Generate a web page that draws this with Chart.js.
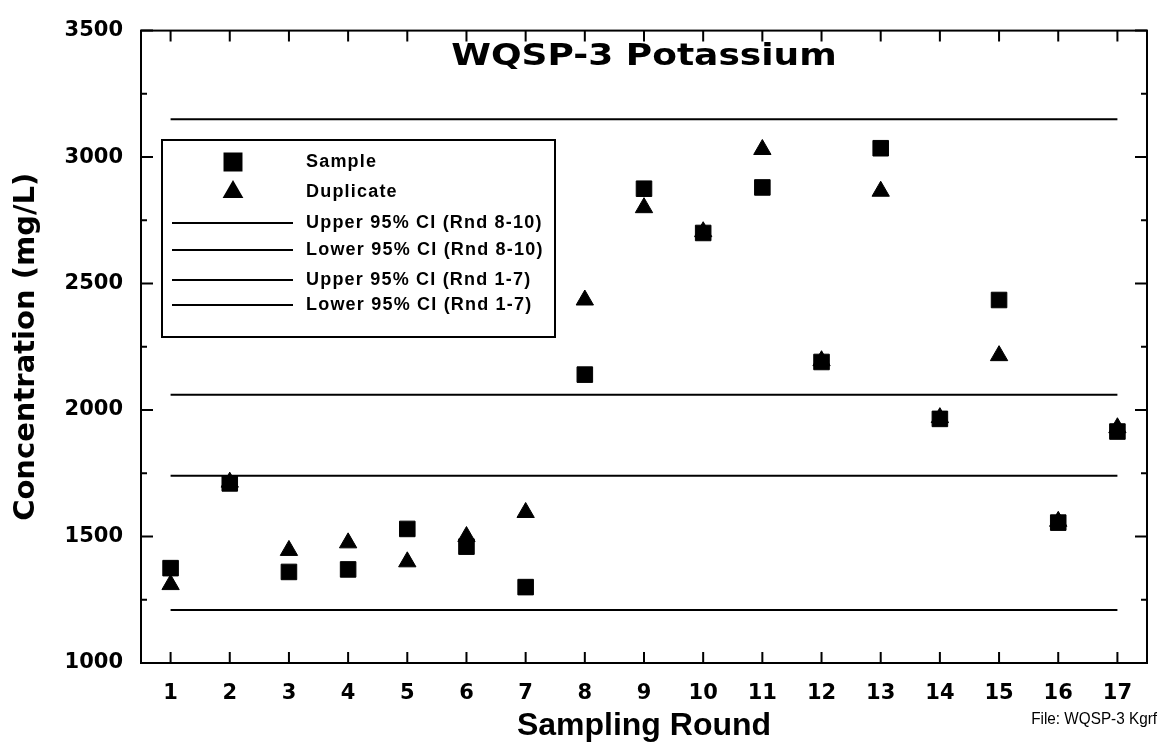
<!DOCTYPE html>
<html>
<head>
<meta charset="utf-8">
<title>WQSP-3 Potassium</title>
<script src="https://cdn.jsdelivr.net/npm/chart.js@4.4.1/dist/chart.umd.min.js"></script>
<style>
  html, body { margin: 0; padding: 0; background: #fff; }
  #wrap { width: 1159px; height: 745px; }
</style>
</head>
<body>
<div id="wrap"><canvas id="potassiumChart" width="1159" height="745"></canvas></div>
<script>
// Sampling rounds and measured concentrations (mg/L)
const rounds = [1, 2, 3, 4, 5, 6, 7, 8, 9, 10, 11, 12, 13, 14, 15, 16, 17];
const sampleValues = [1375, 1710, 1360, 1370, 1530, 1460, 1300, 2140, 2875, 2700, 2880, 2190, 3035, 1965, 2435, 1555, 1915];
const duplicateValues = [1310, 1715, 1445, 1475, 1400, 1500, 1595, 2435, 2800, 2705, 3030, 2195, 2865, 1970, 2215, 1560, 1930];

// 95% confidence limits, drawn across the whole round range
const ciLabels = ['Upper 95% CI (Rnd 8-10)', 'Lower 95% CI (Rnd 8-10)', 'Upper 95% CI (Rnd 1-7)', 'Lower 95% CI (Rnd 1-7)'];
const ciValues = [3150, 2060, 1740, 1210];
const ciRange = [1, 17];

// Axis ticks
const yTickValues = [1000, 1500, 2000, 2500, 3000, 3500];
const yMinorValues = [1250, 1750, 2250, 2750, 3250];

const tickFont = { family: 'DejaVu Sans', size: 21, weight: 'bold' };

// Build the datasets
const datasets = [
    {
        label: 'Sample',
        type: 'scatter',
        data: rounds.map((r, i) => ({ x: r, y: sampleValues[i] })),
        pointStyle: 'rect',
        pointRadius: 11,
        pointHoverRadius: 11,
        borderWidth: 1,
        backgroundColor: '#000',
        borderColor: '#000',
    },
    {
        label: 'Duplicate',
        type: 'scatter',
        data: rounds.map((r, i) => ({ x: r, y: duplicateValues[i] })),
        pointStyle: 'triangle',
        pointRadius: 10,
        pointHoverRadius: 10,
        borderWidth: 1,
        backgroundColor: '#000',
        borderColor: '#000',
    },
];
ciLabels.forEach((label, i) => {
    datasets.push({
        label: label,
        type: 'line',
        data: ciRange.map(r => ({ x: r, y: ciValues[i] })),
        borderColor: '#000',
        borderWidth: 2,
        pointRadius: 0,
        fill: false,
    });
});

// Frame round the plot with inward ticks on all four sides
const frameTicks = {
    id: 'frameTicks',
    afterDatasetsDraw(chart) {
        const { ctx, chartArea: a, scales: { x, y } } = chart;
        ctx.save();
        ctx.strokeStyle = '#000';
        ctx.lineWidth = 2;
        ctx.strokeRect(a.left, a.top, a.right - a.left, a.bottom - a.top);
        ctx.beginPath();
        rounds.forEach(r => {
            const px = x.getPixelForValue(r);
            ctx.moveTo(px, a.bottom); ctx.lineTo(px, a.bottom - 11);
            ctx.moveTo(px, a.top); ctx.lineTo(px, a.top + 11);
        });
        yTickValues.forEach(v => {
            const py = y.getPixelForValue(v);
            ctx.moveTo(a.left, py); ctx.lineTo(a.left + 12, py);
            ctx.moveTo(a.right, py); ctx.lineTo(a.right - 12, py);
        });
        yMinorValues.forEach(v => {
            const py = y.getPixelForValue(v);
            ctx.moveTo(a.left, py); ctx.lineTo(a.left + 6, py);
            ctx.moveTo(a.right, py); ctx.lineTo(a.right - 6, py);
        });
        ctx.stroke();
        ctx.restore();
    }
};

// Title inside the plot, the boxed legend and the file note
const annotations = {
    id: 'annotations',
    afterDraw(chart) {
        const ctx = chart.ctx;
        ctx.save();

        // Title (wide, heavy face: stretch horizontally)
        ctx.save();
        ctx.fillStyle = '#000';
        ctx.font = 'bold 30px "DejaVu Sans"';
        ctx.textAlign = 'center';
        ctx.textBaseline = 'alphabetic';
        ctx.translate(644, 65);
        ctx.scale(1.2, 1);
        ctx.fillText('WQSP-3 Potassium', 0, 0);
        ctx.restore();

        // Legend box
        ctx.fillStyle = '#fff';
        ctx.fillRect(162, 140, 393, 197);
        ctx.strokeStyle = '#000';
        ctx.lineWidth = 2;
        ctx.strokeRect(162, 140, 393, 197);

        const rowY = [162, 192, 223, 250, 280, 305];
        chart.data.datasets.forEach((ds, i) => {
            const yy = rowY[i];
            ctx.fillStyle = '#000';
            ctx.strokeStyle = '#000';
            if (ds.type === 'scatter') {
                Chart.helpers.drawPoint(ctx, {
                    pointStyle: ds.pointStyle,
                    radius: ds.pointStyle === 'rect' ? 12 : 10,
                    rotation: 0,
                    borderWidth: 1,
                }, 233, yy);
            } else {
                ctx.lineWidth = 2;
                ctx.beginPath();
                ctx.moveTo(172, yy);
                ctx.lineTo(293, yy);
                ctx.stroke();
            }
            ctx.font = 'bold 18px "Liberation Sans"';
            ctx.letterSpacing = '1.2px';
            ctx.textAlign = 'left';
            ctx.textBaseline = 'middle';
            ctx.fillText(ds.label, 306, yy);
            ctx.letterSpacing = '0px';
        });

        // File note (narrow face)
        ctx.save();
        ctx.font = '17px "Liberation Sans"';
        ctx.textAlign = 'right';
        ctx.textBaseline = 'middle';
        ctx.translate(1157, 719);
        ctx.scale(0.9, 1);
        ctx.fillText('File: WQSP-3 Kgrf', 0, 0);
        ctx.restore();

        ctx.restore();
    }
};

const chartElement = document.getElementById('potassiumChart');
const potassiumChart = new Chart(chartElement.getContext('2d'), {
    type: 'scatter',
    data: { datasets: datasets },
    options: {
        responsive: false,
        animation: false,
        layout: { padding: { left: 0, top: 22, right: 11, bottom: 0 } },
        plugins: {
            legend: { display: false },
            tooltip: { enabled: false },
        },
        scales: {
            x: {
                type: 'linear',
                min: 0.5,
                max: 17.5,
                afterBuildTicks: (scale) => { scale.ticks = rounds.map(r => ({ value: r })); },
                afterFit: (scale) => { scale.height = 82; },
                grid: { display: false, drawTicks: false },
                border: { display: false },
                ticks: {
                    color: '#000',
                    font: tickFont,
                    padding: 18,
                    maxRotation: 0,
                    autoSkip: false,
                    callback: (v) => String(v),
                },
                title: {
                    display: true,
                    text: 'Sampling Round',
                    color: '#000',
                    font: { family: 'Liberation Sans', size: 32, weight: 'bold', lineHeight: 1 },
                    padding: { top: 0, bottom: 3 },
                },
            },
            y: {
                type: 'linear',
                min: 1000,
                max: 3500,
                afterBuildTicks: (scale) => { scale.ticks = yTickValues.map(v => ({ value: v })); },
                afterFit: (scale) => { scale.width = 141; },
                grid: { display: false, drawTicks: false },
                border: { display: false },
                ticks: {
                    color: '#000',
                    font: tickFont,
                    padding: 18,
                    callback: (v) => String(v),
                },
                title: {
                    display: true,
                    text: 'Concentration (mg/L)',
                    color: '#000',
                    font: { family: 'DejaVu Sans', size: 29, weight: 'bold', lineHeight: 1.2 },
                    padding: { top: 9, bottom: 0 },
                },
            },
        },
    },
    plugins: [frameTicks, annotations],
});
</script>
</body>
</html>
